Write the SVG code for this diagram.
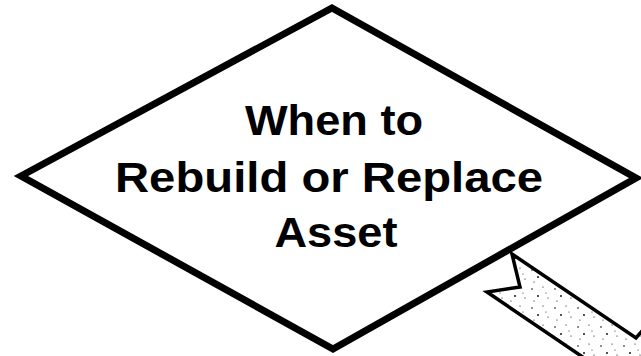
<svg xmlns="http://www.w3.org/2000/svg" width="641" height="356" viewBox="0 0 641 356">
  <style>
    .lbl { font-family: "Liberation Sans", Arial, sans-serif; font-weight: bold; font-size: 42px; fill: #000; text-anchor: middle; }
    .diamond { fill: #fff; stroke: #000; stroke-width: 7; stroke-linejoin: miter; stroke-miterlimit: 10; }
    .arrow { fill: url(#stipple); stroke: #000; stroke-width: 3.5; stroke-linejoin: miter; }
  </style>
  <defs>
    <pattern id="stipple" width="23" height="19" patternUnits="userSpaceOnUse">
      <rect width="23" height="19" fill="#fff"/>
      <circle cx="3" cy="4" r="0.8" fill="#000"/>
      <circle cx="14" cy="2" r="0.6" fill="#000"/>
      <circle cx="9" cy="11" r="0.9" fill="#000"/>
      <circle cx="19" cy="13" r="0.6" fill="#000"/>
      <circle cx="5" cy="16" r="0.6" fill="#000"/>
      <circle cx="17" cy="8" r="0.5" fill="#000"/>
    </pattern>
  </defs>
  <rect width="641" height="356" fill="#fff"/>
  <g id="connectors">
    <polygon class="arrow" points="512,254 520,287 487,292 593,364 648,364 648,324 636,338"/>
  </g>
  <g id="decision">
    <polygon class="diamond" points="332,8 636,178 333,349 21,176"/>
    <text class="lbl" x="334" y="135" textLength="178" lengthAdjust="spacingAndGlyphs">When to</text>
    <text class="lbl" x="329" y="192" textLength="428" lengthAdjust="spacingAndGlyphs">Rebuild or Replace</text>
    <text class="lbl" x="336" y="247" textLength="123" lengthAdjust="spacingAndGlyphs">Asset</text>
  </g>
</svg>
